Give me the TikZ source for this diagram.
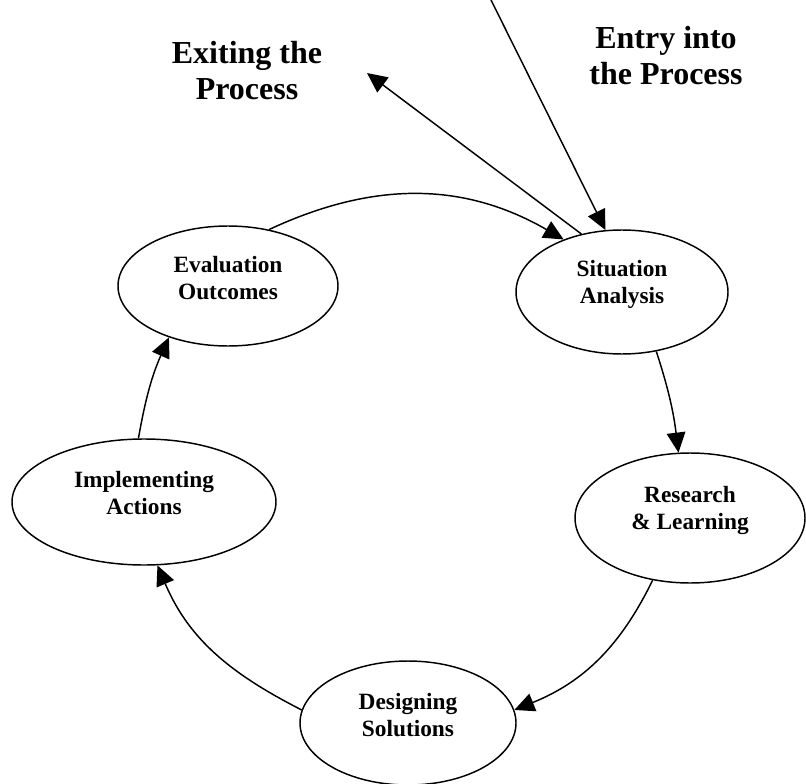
\documentclass[tikz,border=0pt]{standalone}
\usepackage{fontspec}
\setmainfont{Liberation Serif}
\usetikzlibrary{shapes.geometric,arrows.meta}

\tikzset{
    stage/.style={draw, ellipse, line width=1.1pt},
    stagetext/.style={align=center, font=\fontsize{17.5}{20.25}\selectfont\bfseries},
    heading/.style={align=center, font=\fontsize{24}{27}\selectfont\bfseries},
    flow/.style={-{Triangle[length=15pt,width=14pt]}, line width=1.1pt}
}

\begin{document}
\begin{tikzpicture}[x=0.75pt,y=-0.75pt]

    \useasboundingbox (0,0) rectangle (806,784);

    % Stages of the cycle
    \node[stage, minimum width=165pt, minimum height=90pt] (eval) at (228,286) {};
    \node[stage, minimum width=159pt, minimum height=93pt] (sit) at (622,292) {};
    \node[stage, minimum width=172.5pt, minimum height=97.5pt] (research) at (690,518) {};
    \node[stage, minimum width=162pt, minimum height=93pt] (design) at (408,723) {};
    \node[stage, minimum width=198pt, minimum height=94.5pt] (impl) at (144,502) {};

    % Stage names (sit a little above the centre)
    \node[stagetext] (evalname) at ([yshift=6pt]eval.center) {Evaluation\\Outcomes};
    \node[stagetext] (sitname) at ([yshift=6pt]sit.center) {Situation\\Analysis};
    \node[stagetext] (researchname) at ([yshift=6pt]research.center) {Research\\\& Learning};
    \node[stagetext] (designname) at ([yshift=6pt]design.center) {Designing\\Solutions};
    \node[stagetext] (implname) at ([yshift=7pt]impl.center) {Implementing\\Actions};

    % The cycle
    \draw[flow] (eval.54) to[out=25, in=150] (sit.138);
    \draw[flow] (sit.-60) to[out=-72, in=97] (research.100);
    \draw[flow] (research.-121) to[out=-116, in=22] (design.7);
    \draw[flow] (design.173) to[out=153, in=-67] (impl.-78);
    \draw[flow] (impl.95) to[out=80, in=-114] (eval.221);

    % Entry and exit
    \coordinate (entrystart) at (491,0);
    \coordinate (exittip) at (367,73);
    \draw[flow] (entrystart) -- (sit.105);
    \draw[flow] (sit.125) -- (exittip);

    \node[heading] (exitlabel) at (247,71) {Exiting the\\Process};
    \node[heading] (entrylabel) at (666,56) {Entry into\\the Process};

\end{tikzpicture}
\end{document}
